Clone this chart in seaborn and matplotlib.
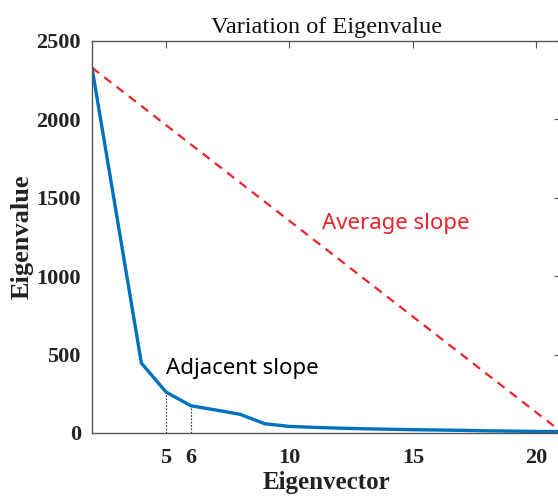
import numpy as np
import pandas as pd
import matplotlib
matplotlib.use("Agg")
import matplotlib.pyplot as plt
import seaborn as sns

# ---- data ----
eigenvector = list(range(2, 22))
eigenvalue = [2330, 1388, 446, 261, 174, 147, 119, 59, 42, 36, 31, 27, 24, 21, 19, 17, 14, 12, 10, 9]
avg_x = [2, 21]
avg_y = [2330, 9]
marked_x = [5, 6]
xticks = [5, 10, 15, 20]
yticks = [0, 500, 1000, 1500, 2000, 2500]

sns.set_theme(style="white")
plt.rcParams['font.family'] = ['Liberation Serif', 'DejaVu Serif']

fig = plt.figure(figsize=(5.58, 4.99), dpi=100)
ax = fig.add_axes([92/558, 1-433/499, 469/558, 392/499])

df = pd.DataFrame({"Eigenvector": eigenvector, "Eigenvalue": eigenvalue})
sns.lineplot(data=df, x="Eigenvector", y="Eigenvalue", ax=ax, color="#0072BD", linewidth=2.4)
ax.plot(avg_x, avg_y, color="#E8232A", linestyle=(0, (4, 3)), linewidth=1.6)

for mx in marked_x:
    v = eigenvalue[eigenvector.index(mx)]
    ax.vlines(mx, 0, v, colors="#333333", linestyles=(0, (1.5, 1.5)), linewidth=0.8)

ax.set_xlim(2, 21)
ax.set_ylim(0, 2500)
ax.set_xticks(xticks)
ax.set_yticks(yticks)
ax.set_xticks([6], minor=True)
ax.set_xticklabels(["6"], minor=True)

for s in ax.spines.values():
    s.set_color("#555555")
    s.set_linewidth(1.0)
    s.set_visible(True)

ax.tick_params(axis="both", which="major", direction="in", length=5, width=0.8,
               color="#555555", top=True, right=True, labelsize=16, pad=8)
ax.tick_params(axis="x", which="major", pad=11)
ax.tick_params(axis="x", which="minor", length=0, labelsize=16, pad=11)
for lab in ax.get_xticklabels(which="both") + ax.get_yticklabels():
    lab.set_fontweight("bold")
    lab.set_color("#222222")

ax.set_xlabel("Eigenvector", fontsize=18, fontweight="bold", color="#222222", labelpad=2)
ax.set_ylabel("Eigenvalue", fontsize=19, fontweight="bold", color="#222222")
ax.yaxis.set_label_coords(-0.124, 0.5)
ax.set_title("Variation of Eigenvalue", fontsize=17.5, color="#111111", pad=6)

ax.text(5.0, 410, "Adjacent slope", fontsize=16, color="black",
        family=["Noto Sans", "DejaVu Sans"], ha="left", va="center")
ax.text(11.3, 1335, "Average slope", fontsize=16, color="#E8232A",
        family=["Noto Sans", "DejaVu Sans"], ha="left", va="center")

fig.savefig("out.png", dpi=100)
